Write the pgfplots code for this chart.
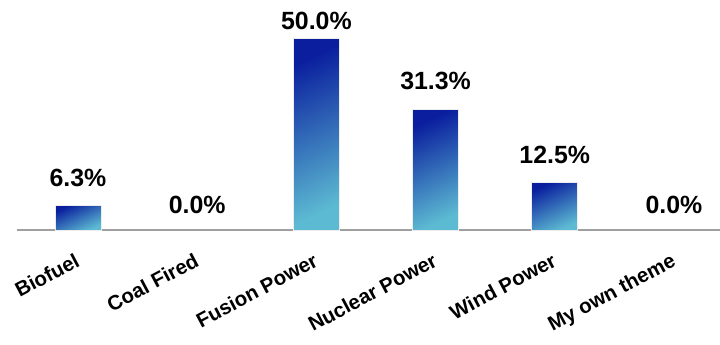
\documentclass[border=0pt]{standalone}
\usepackage{pgfplots}
\pgfplotsset{compat=1.18}
\usepackage{fontspec}
\setmainfont{Liberation Sans}
\definecolor{bartop}{HTML}{0A1E9E}
\definecolor{barbot}{HTML}{5CBAD2}
\definecolor{axgray}{HTML}{A0A0A0}
\begin{document}
\begin{tikzpicture}[x=1bp,y=1bp]
\path[use as bounding box] (-17bp,-115bp) rectangle (703bp,230bp);
\begin{axis}[
  at={(61bp,0)}, anchor=origin,
  scale only axis,
  width=703bp, height=222.7bp,
  xmin=-0.512, xmax=5.386,
  ymin=0, ymax=58,
  axis x line*=bottom,
  axis y line=none,
  x axis line style={draw=axgray, line width=1.5bp, -},
  xtick={0,1,2,3,4,5},
  xticklabels={Biofuel,Coal Fired,Fusion Power,Nuclear Power,Wind Power,My own theme},
  major tick length=0pt,
  xticklabel style={yshift=-22bp, xshift=-4bp, font=\fontsize{20.5}{24}\selectfont\bfseries, rotate=28, anchor=north east, inner sep=0pt},
  ytick=\empty,
  clip=false,
  barstyle/.style={ybar, bar width=46bp, bar shift=0pt, draw=white!85!gray, line width=0.8bp,
    top color=bartop, bottom color=barbot, shading angle=25},
]
\addplot[barstyle] coordinates {(0,6.3)};
\addplot[barstyle] coordinates {(2,50.0)};
\addplot[barstyle] coordinates {(3,31.3)};
\addplot[barstyle] coordinates {(4,12.5)};
\addplot[only marks, mark=none, nodes near coords, point meta=explicit symbolic,
  every node near coord/.style={font=\fontsize{25}{30}\selectfont\bfseries, anchor=base, inner sep=0pt, yshift=0pt}]
  coordinates {(0,11.2) [6.3\%] (1,4.4) [0.0\%] (2,52.1) [50.0\%] (3,36.5) [31.3\%] (4,17.4) [12.5\%] (5,4.4) [0.0\%]};
\end{axis}
\end{tikzpicture}
\end{document}
